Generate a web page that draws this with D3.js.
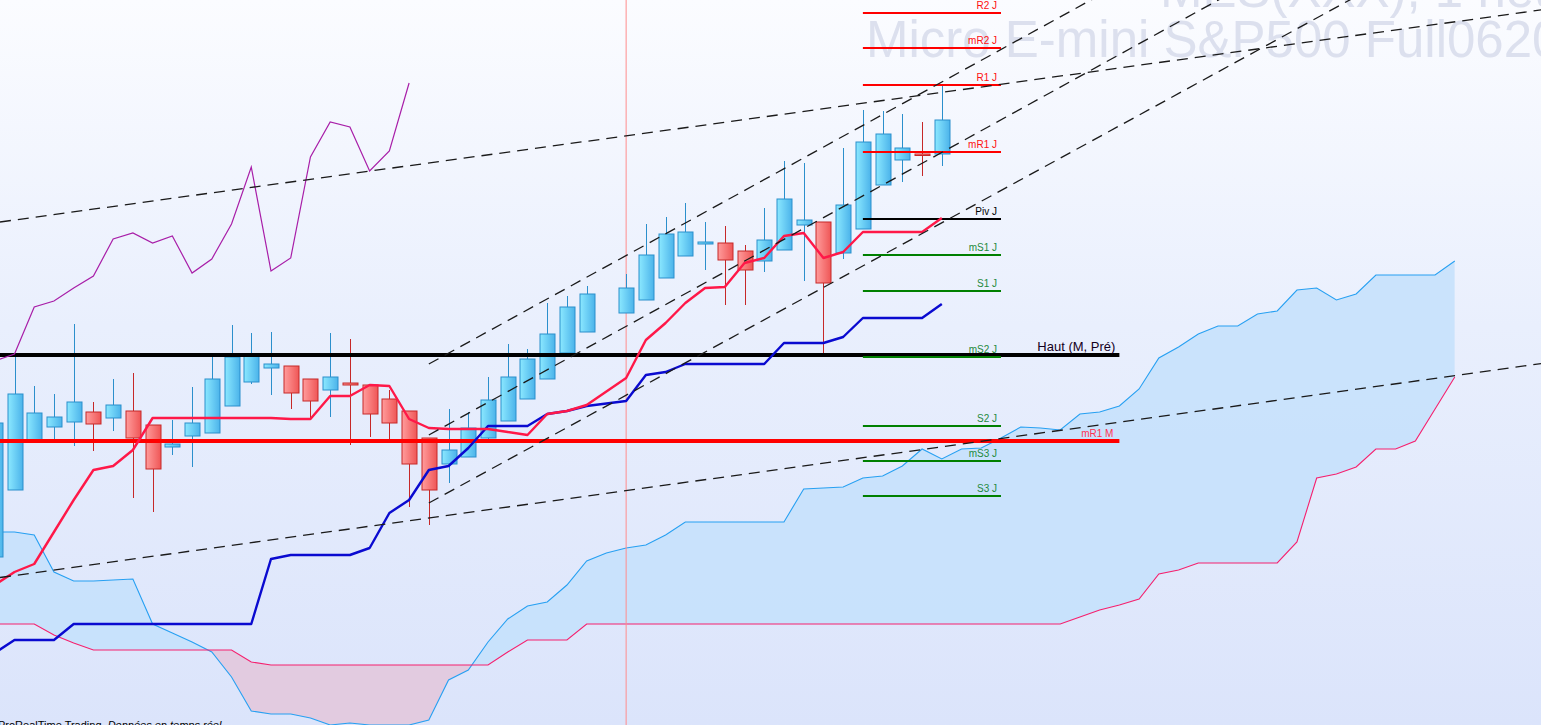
<!DOCTYPE html>
<html><head><meta charset="utf-8">
<script src="https://cdn.jsdelivr.net/npm/d3@7"></script>
<style>html,body{margin:0;padding:0;overflow:hidden;background:#fff}svg{display:block}</style>
</head><body><svg id="c" width="1541" height="725"></svg>
<script>
// ---------- DATA (prices, bar index -1 .. 47; bar 30 missing) ----------
const barIndex = d3.range(-1, 48);
const open  = [3100.75,3117.5,3130,3133.25,3134.5,3137,3135.5,3137.25,3133.75,3128.25,3131,3131.75,3138.5,3144.5,3148,3148.5,3145.25,3142.5,3144.25,3143.75,3140.25,3137.25,3130.5,3124,3125.75,3130.5,3134.75,3140.25,3145.25,3151.75,3157,null,3161.75,3165,3170.5,3176,3179,3179.25,3177.25,3174.75,3177.5,3183.75,3184.5,3176.75,3182.75,3193.75,3200,3201.5,3201.5];
const high  = [3136.25,3151.25,3143.5,3141.5,3159,3139.5,3145.25,3146.75,3133.75,3135,3143.25,3150.75,3158.75,3156.75,3157,3148.5,3145.25,3156.75,3155.25,3143.75,3142.5,3137.25,3130.5,3137.75,3137,3145.75,3154,3152.75,3164.25,3166,3168.5,null,3171.5,3184,3185.75,3189.25,3184.5,3183.5,3178.75,3188,3199.75,3199.25,3184.5,3203,3212.5,3212.25,3211.5,3209.5,3218.75];
const low   = [3098.75,3117.5,3129.75,3130.25,3128.5,3127.25,3132.25,3115.5,3112,3126.25,3123.25,3131.75,3138.5,3144,3141.25,3137.75,3135,3135.75,3128.75,3130.75,3130,3113.25,3108.75,3119.25,3125.75,3130,3134.75,3140.25,3145.25,3151.75,3157,null,3161.75,3165,3170.5,3176,3172.5,3163.75,3163.75,3172,3177.5,3169.75,3151.5,3175.25,3182.75,3193.75,3194.5,3196,3198.5];
const close = [3134.25,3141.5,3136.75,3135.75,3139.5,3134,3138.75,3130.5,3122.75,3129,3134.25,3145.25,3150.75,3151.25,3149,3141.75,3139.75,3145.75,3143.75,3136.5,3134.25,3124,3117.5,3127.5,3133,3140,3145.75,3150.25,3156.5,3163.25,3166.5,null,3168,3176.25,3181.5,3182,3179.5,3175,3172.5,3180,3190.25,3185,3169.25,3188.75,3204.5,3206.5,3203,3201.25,3210];

const tenkan = [3093.75,3097,3099,3107,3115,3122.5,3123.5,3127.5,3135.5,3135.5,3135.5,3135.5,3135.5,3135.5,3135.5,3135.25,3135.25,3141,3141,3143.75,3143.5,3135.25,3133,3132.75,3132.75,3132.75,3132,3131.25,3136.5,3137.25,3138.75,null,3145.5,3155,3159.25,3164.25,3168,3168.25,3174.25,3175.5,3181,3181.75,3175.5,3177,3182,3182,3182,3182,3185.5];
const kijun  = [3076.75,3080,3080,3080,3084,3084,3084,3084,3084,3084,3084,3084,3084,3084,3100.25,3101.25,3101.25,3101.25,3101.25,3103,3111.75,3115,3122.5,3123.5,3128,3133.5,3133.5,3133.5,3136.5,3137.25,3138.5,null,3139.75,3146.25,3147,3149,3149,3149,3149,3149,3154.25,3154.25,3154.25,3155.75,3160.5,3160.5,3160.5,3160.5,3164];
const chikouIndex = d3.range(-1, 21);
const chikou = [3149.75,3151.5,3163.25,3164.75,3168,3171,3180.25,3181.75,3179.25,3181,3171.75,3175.25,3184,3198.25,3172.25,3175.5,3200.75,3209.5,3208.25,3197.25,3202.25,3219.25];

const cloudIndex = d3.range(-1, 74);
const senkouA = [3107,3107,3106.25,3097,3094.75,3094.75,3095,3095.25,3084,3081.75,3079.5,3077,3070.75,3062.25,3061.5,3061.5,3060.5,3058.75,3059.25,3058.75,3058.75,3058.75,3060,3070,3072.5,3079.5,3085.25,3088.5,3089.5,3093.75,3099.75,3101.75,3103,3103.75,3106.25,3109.5,3109.5,3109.5,3109.5,3109.5,3109.5,3117.75,3118,3118.25,3120.5,3121,3123.5,3127.75,3125.25,3127.75,3128,3130.5,3133.25,3133,3132.5,3136.5,3137,3138.5,3142.75,3150.5,3153.25,3156.5,3158.5,3158.5,3161.5,3162.25,3167.5,3168,3165,3166.5,3171.25,3171.25,3171.25,3171.25,3174.75];
const senkouB = [3084,3084,3084,3081.25,3079.25,3077.5,3077.5,3077.5,3077.5,3077.5,3077.5,3077.5,3077.5,3074.5,3073.75,3073.75,3073.75,3073.75,3073.75,3073.75,3073.75,3073.75,3073.75,3073.75,3073.75,3073.75,3077,3080,3080,3080,3084,3084,3084,3084,3084,3084,3084,3084,3084,3084,3084,3084,3084,3084,3084,3084,3084,3084,3084,3084,3084,3084,3084,3084,3084,3085.75,3087.5,3088.75,3090.25,3096.5,3097.5,3099.25,3099.25,3099.25,3099.25,3099.25,3104.5,3120.5,3121.5,3123.25,3127.75,3127.75,3129.75,3137.75,3145.75];

// pivot levels (daily) drawn over bars 43..50
const pivotNames  = ["R2 J","mR2 J","R1 J","mR1 J","Piv J","mS1 J","S1 J","mS2 J","S2 J","mS3 J","S3 J"];
const pivotValues = [3236.75,3228,3218.75,3202,3185.25,3176.25,3167.25,3150.75,3133.5,3124.75,3116];
const pivotKind   = ["r","r","r","r","p","s","s","s","s","s","s"];
const pivotFrom = 43, pivotTo = 50;

// monthly levels
const levelNames  = ["Haut (M, Pré)","mR1 M"];
const levelValues = [3151.25,3129.75];
const levelTo = 56;

// trend lines: [startBar or null(=from left edge), bar1, price1, bar2, price2]
const trendLines = [
  [null, 0, 3185, 47, 3216.9],
  [null, 21, 3110.5, 47, 3128.3],
  [21, 21, 3149, 47, 3219.5],
  [21, 21, 3131.25, 47, 3201.9],
  [21, 21, 3114.25, 47, 3184.3]
];
const markerBar = 31;

// ---------- CHART ----------
const W = 1541, H = 725;
const svg = d3.select("#c");
const x = d3.scaleLinear().domain([0, 47]).range([14.5, 14.5 + 47 * 19.73]);
const y = d3.scaleLinear().domain([3240, 3240 - H / 4]).range([0, H]);
const defs = svg.append("defs");

const bg = defs.append("linearGradient").attr("id","bg").attr("x1",0).attr("y1",0).attr("x2",0).attr("y2",1);
bg.append("stop").attr("offset","0%").attr("stop-color","#fbfcff");
bg.append("stop").attr("offset","45%").attr("stop-color","#e9effd");
bg.append("stop").attr("offset","100%").attr("stop-color","#dbe4fb");
const gUp = defs.append("linearGradient").attr("id","up").attr("x1",0).attr("x2",1).attr("y1",0).attr("y2",0);
gUp.append("stop").attr("offset","0%").attr("stop-color","#8be8ff");
gUp.append("stop").attr("offset","100%").attr("stop-color","#4bb3ea");
const gDn = defs.append("linearGradient").attr("id","dn").attr("x1",0).attr("x2",1).attr("y1",0).attr("y2",0);
gDn.append("stop").attr("offset","0%").attr("stop-color","#ff9c9c");
gDn.append("stop").attr("offset","100%").attr("stop-color","#ef5656");

svg.append("rect").attr("width",W).attr("height",H).attr("fill","url(#bg)");

// watermark
const wm = svg.append("g").attr("font-family","'Liberation Sans', Arial, sans-serif").attr("fill","#dce0ee").attr("font-size",51);
wm.append("text").attr("x",866).attr("y",57).text("Micro E-mini S&P500 Full0620");
wm.append("text").attr("x",1160).attr("y",7).text("MES(XXX), 1 heure");

// cloud
const cloud = cloudIndex.map((d,i)=>({i:d,a:senkouA[i],b:senkouB[i]}));
defs.append("clipPath").attr("id","aboveB").append("path")
  .attr("d", d3.area().x(d=>x(d.i)).y0(0).y1(d=>y(d.b))(cloud));
defs.append("clipPath").attr("id","belowB").append("path")
  .attr("d", d3.area().x(d=>x(d.i)).y0(H).y1(d=>y(d.b))(cloud));
const band = d3.area().x(d=>x(d.i)).y0(d=>y(d.a)).y1(d=>y(d.b));
svg.append("path").attr("d",band(cloud)).attr("fill","#c4e1fb").attr("opacity",0.85).attr("clip-path","url(#aboveB)");
svg.append("path").attr("d",band(cloud)).attr("fill","#e2cbe0").attr("clip-path","url(#belowB)");
const ln = (key)=>d3.line().defined(d=>d[key]!=null).x(d=>x(d.i)).y(d=>y(d[key]));
svg.append("path").attr("d",ln("a")(cloud)).attr("fill","none").attr("stroke","#27a0f2").attr("stroke-width",1.1);
svg.append("path").attr("d",ln("b")(cloud)).attr("fill","none").attr("stroke","#f5206e").attr("stroke-width",1.1);

// marker vertical line
svg.append("line").attr("x1",x(markerBar)).attr("x2",x(markerBar)).attr("y1",0).attr("y2",H)
  .attr("stroke","#ff8c8c").attr("stroke-width",1);

// candles
const bars = barIndex.map((d,i)=>({i:d,o:open[i],h:high[i],l:low[i],c:close[i]})).filter(d=>d.o!=null);
const cg = svg.append("g");
bars.forEach(d=>{
  const up = d.c >= d.o;
  const stroke = up ? "#2b8fcc" : "#c62828";
  const cx = Math.round(x(d.i)) + 0.5;
  cg.append("line").attr("x1",cx).attr("x2",cx).attr("y1",y(d.h)).attr("y2",y(d.l)).attr("stroke",stroke).attr("stroke-width",1);
  const top = y(Math.max(d.o,d.c)), bot = y(Math.min(d.o,d.c));
  const hgt = Math.max(bot-top, 1.5);
  cg.append("rect").attr("x",cx-7.5).attr("y",top).attr("width",15).attr("height",hgt)
    .attr("fill", up ? "url(#up)" : "url(#dn)").attr("stroke",stroke).attr("stroke-width",1);
});

// monthly levels
levelValues.forEach((v,k)=>{
  svg.append("line").attr("x1",0).attr("x2",x(levelTo)).attr("y1",y(v)).attr("y2",y(v))
    .attr("stroke", k===0 ? "#000" : "#ff0000").attr("stroke-width",4);
});
// pivots
const pivColor = {r:"#ff0000",p:"#000000",s:"#008000"};
const pivText = {r:"#ff1010",p:"#000000",s:"#1f8a3c"};
pivotValues.forEach((v,k)=>{
  svg.append("line").attr("x1",x(pivotFrom)).attr("x2",x(pivotTo)).attr("y1",y(v)).attr("y2",y(v))
    .attr("stroke",pivColor[pivotKind[k]]).attr("stroke-width",2);
});

// ichimoku lines
const rows = barIndex.map((d,i)=>({i:d,t:tenkan[i],k:kijun[i]}));
const noGap = (key)=>d3.line().x(d=>x(d.i)).y(d=>y(d[key]));
svg.append("path").attr("d",noGap("k")(rows.filter(d=>d.k!=null))).attr("fill","none").attr("stroke","#0a0ad0").attr("stroke-width",2.4).attr("stroke-linejoin","round");
svg.append("path").attr("d",noGap("t")(rows.filter(d=>d.t!=null))).attr("fill","none").attr("stroke","#ff1848").attr("stroke-width",2.4).attr("stroke-linejoin","round");
const ch = chikouIndex.map((d,i)=>({i:d,v:chikou[i]}));
svg.append("path").attr("d",noGap("v")(ch)).attr("fill","none").attr("stroke","#a81ea8").attr("stroke-width",1.2);

// trend lines
trendLines.forEach(t=>{
  const [s,b1,p1,b2,p2] = t;
  const X1 = x(b1), Y1 = y(p1), X2 = x(b2), Y2 = y(p2);
  const m = (Y2-Y1)/(X2-X1);
  const xs = s==null ? 0 : x(s);
  const xe = W;
  svg.append("line").attr("x1",xs).attr("y1",Y1+m*(xs-X1)).attr("x2",xe).attr("y2",Y1+m*(xe-X1))
    .attr("stroke","#1a1a1a").attr("stroke-width",1.3).attr("stroke-dasharray","11,7");
});

// labels
const lab = svg.append("g").attr("font-family","'Liberation Sans', Arial, sans-serif");
pivotValues.forEach((v,k)=>{
  lab.append("text").attr("x",x(pivotTo)-4).attr("y",y(v)-4).attr("text-anchor","end")
    .attr("font-size",10).attr("fill",pivText[pivotKind[k]]).text(pivotNames[k]);
});
lab.append("text").attr("x",x(levelTo)-4).attr("y",y(levelValues[0])-4).attr("text-anchor","end")
  .attr("font-size",13).attr("fill","#14001e").text(levelNames[0]);
lab.append("text").attr("x",x(levelTo)-6).attr("y",y(levelValues[1])-4).attr("text-anchor","end")
  .attr("font-size",10).attr("fill","#ff3352").text(levelNames[1]);

const foot = lab.append("text").attr("x",-2).attr("y",729).attr("font-size",11).attr("fill","#000");
foot.append("tspan").text("ProRealTime Trading, ");
foot.append("tspan").attr("font-style","italic").text("Données en temps réel");
</script>
</body></html>
